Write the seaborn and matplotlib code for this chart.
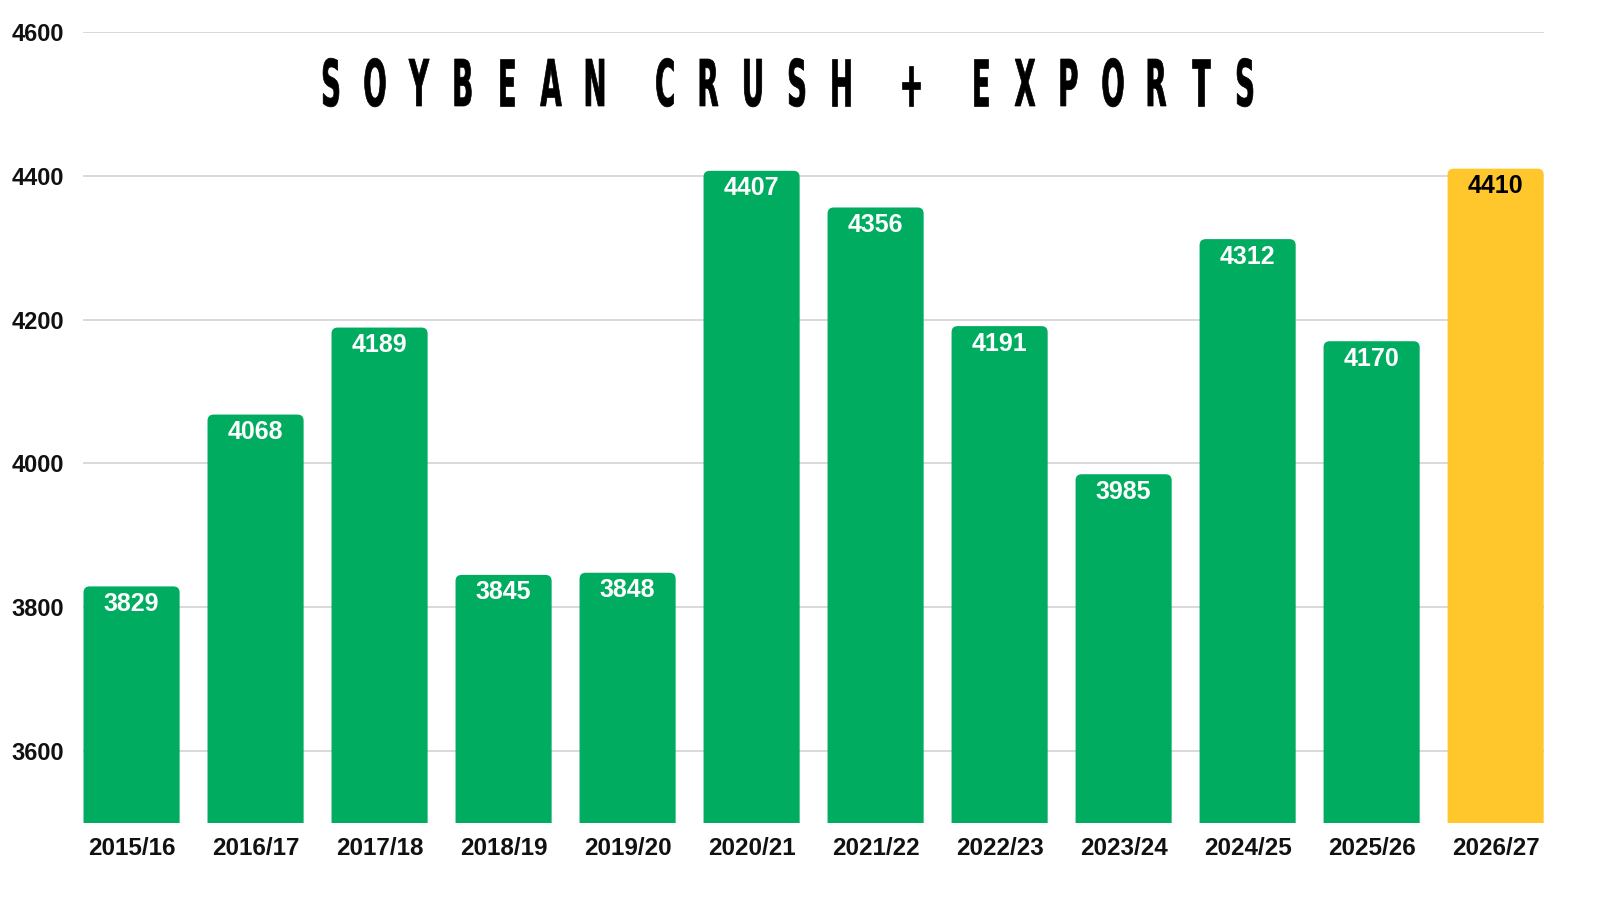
import numpy as np
import pandas as pd
import matplotlib
matplotlib.use("Agg")
import matplotlib.pyplot as plt
import seaborn as sb
from matplotlib.textpath import TextPath
from matplotlib.font_manager import FontProperties
from matplotlib.patches import PathPatch, FancyBboxPatch
from matplotlib.transforms import Affine2D

# data
years = ["2015/16", "2016/17", "2017/18", "2018/19", "2019/20", "2020/21",
         "2021/22", "2022/23", "2023/24", "2024/25", "2025/26", "2026/27"]
crush_exports = [3829, 4068, 4189, 3845, 3848, 4407, 4356, 4191, 3985, 4312, 4170, 4410]
y_ticks = [3600, 3800, 4000, 4200, 4400, 4600]
title = "SOYBEAN CRUSH + EXPORTS"

green = "#00AC5F"
yellow = "#FFC72C"
bar_colors = [green] * (len(years) - 1) + [yellow]

df = pd.DataFrame({"year": years, "total": crush_exports})

sb.set_style("white")
plt.rcParams['font.family'] = ['Liberation Sans', 'DejaVu Sans']

fig = plt.figure(figsize=(16, 9), dpi=100)
ax = fig.add_axes([0.052, 0.0856, 0.913, 0.8788])

sb.barplot(data=df, x="year", y="total", hue="year", palette=bar_colors,
           legend=False, width=0.775, ax=ax, zorder=3, saturation=1)

ax.set_ylim(3500, 4600)
ax.set_xlim(-0.39, len(years) - 0.61)

# swap the plain rectangles for ones with slightly rounded top corners
r = 0.05
asp = 170
for p in list(ax.patches):
    x, y = p.get_x(), p.get_y()
    w, h = p.get_width(), p.get_height()
    fc = p.get_facecolor()
    p.remove()
    ax.add_patch(FancyBboxPatch((x, y), w, h, boxstyle=f"round,pad=0,rounding_size={r}",
                                mutation_aspect=asp, facecolor=fc, edgecolor="none", zorder=3))

ax.set_yticks(y_ticks)
ax.yaxis.grid(True, color="#D9D9D9", linewidth=1.4, zorder=0)
ax.set_axisbelow(True)
for s in ax.spines.values():
    s.set_visible(False)
ax.set_xlabel("")
ax.set_ylabel("")
ax.tick_params(axis="y", length=0, pad=14, labelsize=17)
ax.tick_params(axis="x", length=0, pad=10, labelsize=17.5)
for lab in ax.get_xticklabels() + ax.get_yticklabels():
    lab.set_fontweight("bold")
    lab.set_color("#111111")

# value labels inside the top of each bar
for i, v in enumerate(crush_exports):
    ax.annotate(str(v), (i, v), xytext=(0, -4), textcoords="offset points",
                ha="center", va="top", fontsize=18, fontweight="bold",
                color="black" if i == len(years) - 1 else "white", zorder=5)

# title: tall condensed letters with wide tracking, drawn as squeezed glyph paths
ov = fig.add_axes([0, 0, 1, 1], zorder=10)
ov.set_xlim(0, 1600)
ov.set_ylim(900, 0)
ov.axis("off")
ov.patch.set_alpha(0)
fp = FontProperties(family="DejaVu Sans", weight="bold")
sy = 47 / 0.729
sx = sy * 0.43
cx = 331
baseline = 106
for ch in title:
    if ch == " ":
        cx += 26
        continue
    tp = TextPath((0, 0), ch, size=1, prop=fp)
    ext = tp.get_extents()
    mid = (ext.x0 + ext.x1) / 2
    tr = Affine2D().scale(sx, -sy).translate(cx - mid * sx, baseline)
    ov.add_patch(PathPatch(tr.transform_path(tp), facecolor="black",
                           edgecolor="black", linewidth=0.5))
    cx += 44

fig.savefig("out.png", dpi=100, facecolor="white")
